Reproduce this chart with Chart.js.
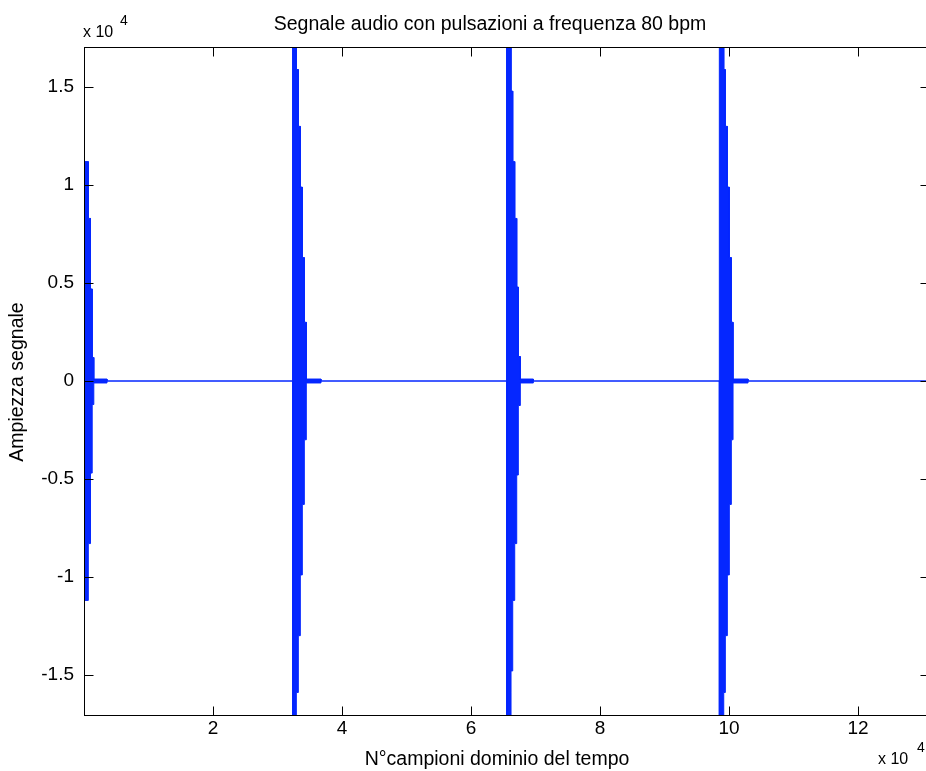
<!DOCTYPE html>
<html>
<head>
<meta charset="utf-8">
<title>Segnale audio con pulsazioni a frequenza 80 bpm</title>
<script src="https://cdn.jsdelivr.net/npm/chart.js@4.4.1/dist/chart.umd.min.js"></script>
<style>
  html, body { margin: 0; padding: 0; background: #fff; overflow: hidden; }
  #wrap { position: relative; width: 940px; height: 771px; }
</style>
</head>
<body>
<div id="wrap"><canvas id="sig"></canvas></div>
<script>
// envelope of the clicks: sample where each step starts, amplitude held until the next step
const stepSamples = [
    0, 667, 1008, 1271, 1519, 3566,
    32330, 32915, 33225, 33535, 33845, 34155, 34465, 36740,
    65504, 66202, 66465, 66775, 67085, 67333, 67643, 69659,
    98496, 99178, 99426, 99736, 100047, 100357, 100620, 102946,
    131000
];
const stepAmps = [
    11200, 8300, 4700, 1200, 100, 0,
    30000, 15900, 13000, 9900, 6300, 3000, 100, 0,
    30000, 14800, 11200, 8300, 4800, 1250, 100, 0,
    30000, 15900, 13000, 9900, 6300, 3000, 100, 0,
    0
];
const xTicks = [20000, 40000, 60000, 80000, 100000, 120000];
const yTicks = [-15000, -10000, -5000, 0, 5000, 10000, 15000];
const xMax = 131000;
const yLim = 17050;

const titleText = 'Segnale audio con pulsazioni a frequenza 80 bpm';
const xLabel = 'N°campioni dominio del tempo';
const yLabel = 'Ampiezza segnale';

const FONT = '"Liberation Sans", Arial, Helvetica, sans-serif';
const BLUE = '#0527ff';

// matlab look: closed box, ticks pointing inwards, exponent labels
const matlabAxes = {
    id: 'matlabAxes',
    afterDatasetsDraw(chart) {
        const { ctx, chartArea: a, scales: { x, y } } = chart;
        const L = Math.round(a.left) + 0.5, R = Math.round(a.right) + 0.5;
        const T = Math.round(a.top) + 0.5, B = Math.round(a.bottom) + 0.5;
        const tl = 9;
        ctx.save();
        ctx.strokeStyle = '#000';
        ctx.lineWidth = 1;
        ctx.strokeRect(L, T, R - L, B - T);
        ctx.beginPath();
        xTicks.forEach(v => {
            const px = Math.round(x.getPixelForValue(v)) + 0.5;
            ctx.moveTo(px, B); ctx.lineTo(px, B - tl);
            ctx.moveTo(px, T); ctx.lineTo(px, T + tl);
        });
        yTicks.forEach(v => {
            const py = Math.round(y.getPixelForValue(v)) + 0.5;
            ctx.moveTo(L, py); ctx.lineTo(L + tl, py);
            ctx.moveTo(R, py); ctx.lineTo(R - tl, py);
        });
        ctx.stroke();
        ctx.restore();
    },
    afterDraw(chart) {
        const { ctx } = chart;
        ctx.save();
        ctx.fillStyle = '#000';
        ctx.textBaseline = 'middle';
        ctx.textAlign = 'center';
        ctx.font = `19.5px ${FONT}`;
        ctx.fillText(titleText, 490, 25);
        ctx.fillText(xLabel, 497, 760);
        ctx.save();
        ctx.translate(18, 382);
        ctx.rotate(-Math.PI / 2);
        ctx.fillText(yLabel, 0, 0);
        ctx.restore();

        ctx.textBaseline = 'alphabetic';
        ctx.textAlign = 'left';
        ctx.font = `16px ${FONT}`;
        ctx.fillText('x 10', 83, 37);
        ctx.fillText('x 10', 878, 764);
        ctx.font = `14px ${FONT}`;
        ctx.fillText('4', 120, 25);
        ctx.fillText('4', 917, 752);
        ctx.restore();
    }
};

// step corners: each amplitude is held from its sample to the next one
function envelope(sign) {
    const pts = [];
    stepSamples.forEach((s, i) => {
        if (i > 0) pts.push({ x: s, y: sign * stepAmps[i - 1] });
        pts.push({ x: s, y: sign * stepAmps[i] });
    });
    return pts;
}

new Chart(document.getElementById('sig'), {
    type: 'line',
    data: {
        datasets: [
            { data: envelope(1), borderColor: BLUE, backgroundColor: BLUE, borderWidth: 1, pointRadius: 0, fill: 'origin' },
            { data: envelope(-1), borderColor: BLUE, backgroundColor: BLUE, borderWidth: 1, pointRadius: 0, fill: 'origin' }
        ]
    },
    options: {
        responsive: true,
        maintainAspectRatio: false,
        animation: false,
        layout: { padding: { top: 47, right: 11, left: 0, bottom: 0 } },
        plugins: { legend: { display: false }, tooltip: { enabled: false }, title: { display: false } },
        scales: {
            x: {
                type: 'linear', min: 0, max: xMax,
                afterBuildTicks: s => { s.ticks = xTicks.map(v => ({ value: v })); },
                afterFit: s => { s.height = 56; },
                grid: { display: false, drawTicks: false },
                border: { display: false },
                ticks: {
                    color: '#000', font: { family: FONT, size: 19 }, padding: 2,
                    autoSkip: false, maxRotation: 0,
                    callback: v => String(v / 1e4)
                }
            },
            y: {
                type: 'linear', min: -yLim, max: yLim,
                afterBuildTicks: s => { s.ticks = yTicks.map(v => ({ value: v })); },
                afterFit: s => { s.width = 84; },
                grid: { display: false, drawTicks: false },
                border: { display: false },
                ticks: {
                    color: '#000', font: { family: FONT, size: 19 }, padding: 10,
                    autoSkip: false,
                    callback: v => String(v / 1e4)
                }
            }
        }
    },
    plugins: [matlabAxes]
});
</script>
</body>
</html>
